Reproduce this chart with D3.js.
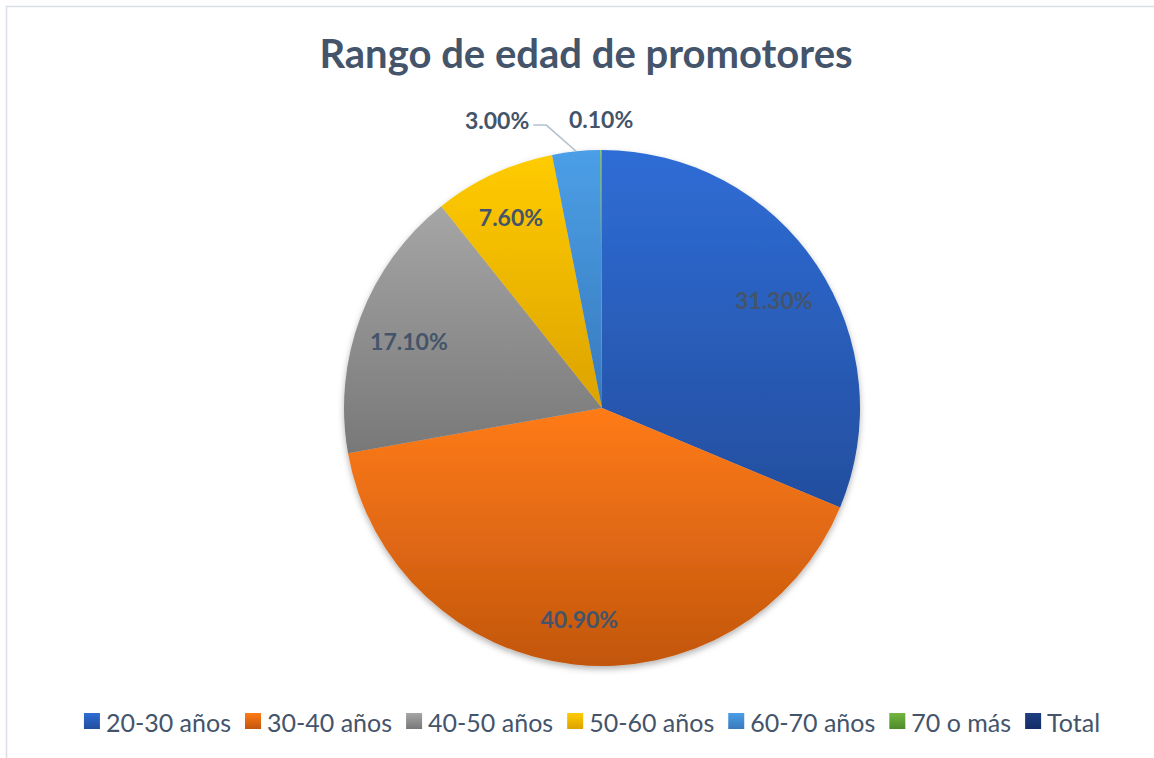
<!DOCTYPE html>
<html>
<head>
<meta charset="utf-8">
<script src="https://cdn.jsdelivr.net/npm/d3@7"></script>
<style>
  body { margin: 0; background: #fff; }
  svg { display: block; font-family: Lato, "Open Sans", sans-serif; }
</style>
</head>
<body>
<svg id="Canvas" width="1154" height="758"></svg>
<script>
// chart data
var categories = ["20-30 años", "30-40 años", "40-50 años", "50-60 años", "60-70 años", "70 o más", "Total"];
var values = [31.3, 40.9, 17.1, 7.6, 3.0, 0.1, 0];
var labels = ["31.30%", "40.90%", "17.10%", "7.60%", "3.00%", "0.10%", ""];
var topColors = ["#2f6dd6", "#ff7b17", "#a6a6a6", "#ffcb00", "#4b9fe6", "#74b640", "#1f3f82"];
var bottomColors = ["#234e9e", "#c2560e", "#787878", "#dca300", "#3879bd", "#4f8a2a", "#132d66"];

var svg = d3.select("#Canvas");
var width = 1154, height = 758;
var cx = 602, cy = 408, radius = 258;
var textColor = "#44546a";

var defs = svg.append("defs");

categories.forEach(function (c, i) {
  var g = defs.append("linearGradient")
    .attr("id", "grad" + i)
    .attr("x1", 0).attr("y1", 0).attr("x2", 0).attr("y2", 1);
  g.append("stop").attr("offset", "0%").attr("stop-color", topColors[i]);
  g.append("stop").attr("offset", "100%").attr("stop-color", bottomColors[i]);
});

var shadow = defs.append("filter").attr("id", "shadow")
  .attr("x", "-10%").attr("y", "-10%").attr("width", "120%").attr("height", "125%");
shadow.append("feDropShadow")
  .attr("dx", 0).attr("dy", 3).attr("stdDeviation", 3)
  .attr("flood-color", "#000").attr("flood-opacity", 0.3);

// chart area border (only top/left visible in frame)
svg.append("line").attr("x1", 6).attr("x2", width).attr("y1", 6.5).attr("y2", 6.5)
  .style("stroke", "#d9dee5").style("stroke-width", 1.5);
svg.append("line").attr("x1", 6.5).attr("x2", 6.5).attr("y1", 6).attr("y2", height)
  .style("stroke", "#d9dee5").style("stroke-width", 1.5);

// title
svg.append("text")
  .attr("x", 586)
  .attr("y", 68)
  .attr("text-anchor", "middle")
  .style("font-size", "40px")
  .style("font-weight", "bold")
  .style("fill", textColor)
  .text("Rango de edad de promotores");

var pie = d3.pie().sort(null).value(function (d) { return d; });
var arcs = pie(values);

var arc = d3.arc().innerRadius(0).outerRadius(radius);
var labelArc = d3.arc().innerRadius(radius * 0.8).outerRadius(radius * 0.8);
var edgeArc = d3.arc().innerRadius(radius).outerRadius(radius);
var outerArc = d3.arc().innerRadius(radius * 1.11).outerRadius(radius * 1.11);

var pieG = svg.append("g")
  .attr("transform", "translate(" + cx + "," + cy + ")");

pieG.append("g")
  .attr("filter", "url(#shadow)")
  .selectAll("path")
  .data(arcs.filter(function (d) { return d.value > 0; }))
  .enter()
  .append("path")
  .attr("d", arc)
  .attr("fill", function (d) { return "url(#grad" + d.index + ")"; });

// labels: big slices inside, small slices outside
arcs.forEach(function (d) {
  if (d.value <= 0) return;
  var share = d.value / 100;
  var t = pieG.append("text")
    .style("font-size", "23px")
    .style("font-weight", "bold")
    .style("fill", textColor)
    .attr("dominant-baseline", "central")
    .text(labels[d.index]);

  if (share >= 0.05) {
    var p = labelArc.centroid(d);
    if (share < 0.1) p = d3.arc().innerRadius(radius * 0.84).outerRadius(radius * 0.84).centroid(d);
    t.attr("x", p[0]).attr("y", p[1] + 6).attr("text-anchor", "middle");
  } else if (share >= 0.01) {
    var e = edgeArc.centroid(d);
    var o = outerArc.centroid(d);
    var bend = [o[0] - 27, o[1] + 2];
    var end = [bend[0] - 13, bend[1]];
    pieG.append("polyline")
      .attr("points", [e, bend, end].map(function (q) { return q.join(","); }).join(" "))
      .style("fill", "none")
      .style("stroke", "#b4c0cf")
      .style("stroke-width", 1.5);
    t.attr("x", end[0] - 4).attr("y", o[1] - 3).attr("text-anchor", "end");
  } else {
    var q = outerArc.centroid(d);
    t.attr("x", q[0]).attr("y", q[1] - 3).attr("text-anchor", "middle");
  }
});

// legend
var legend = svg.append("g");
var x = 0;
var box = 16;
categories.forEach(function (c, i) {
  var item = legend.append("g").attr("transform", "translate(" + x + ",0)");
  item.append("rect")
    .attr("x", 0).attr("y", -box / 2 - 1)
    .attr("width", box).attr("height", box)
    .attr("fill", "url(#grad" + i + ")");
  var t = item.append("text")
    .attr("x", box + 6)
    .attr("y", 0)
    .attr("dominant-baseline", "central")
    .style("font-size", "25px")
    .style("fill", textColor)
    .text(c);
  x += box + 6 + t.node().getComputedTextLength() + 14;
});
var legendWidth = x - 14;
legend.attr("transform", "translate(" + (592 - legendWidth / 2) + ",722)");
</script>
</body>
</html>
